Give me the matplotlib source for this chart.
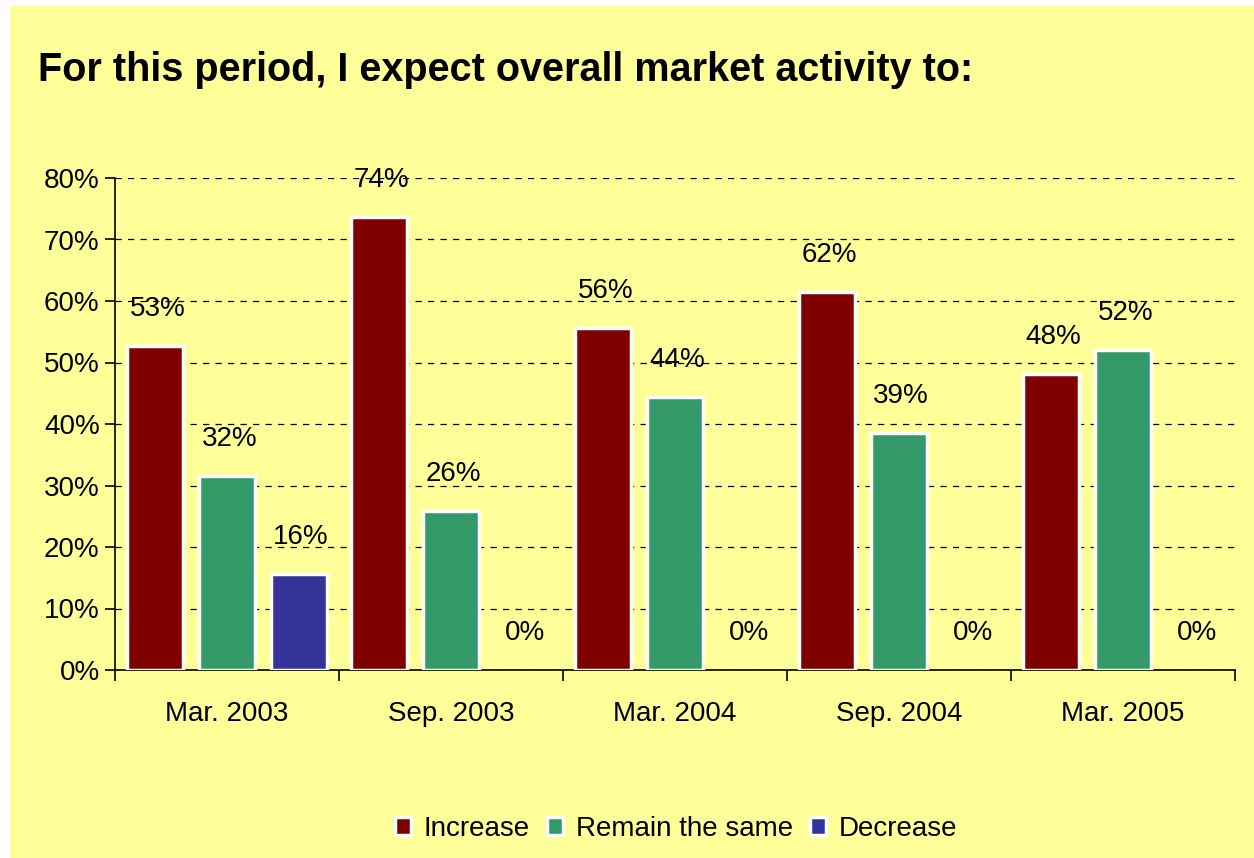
import matplotlib.pyplot as plt
import numpy as np
from matplotlib.patches import Rectangle
from matplotlib.ticker import FuncFormatter

plt.rcParams['font.family'] = ['Liberation Sans', 'DejaVu Sans']

periodos = ["Mar. 2003", "Sep. 2003", "Mar. 2004", "Sep. 2004", "Mar. 2005"]
aumento = [0.527, 0.737, 0.556, 0.615, 0.481]
igual = [0.316, 0.259, 0.444, 0.386, 0.520]
queda = [0.156, 0.0, 0.0, 0.0, 0.0]
series = ["Increase", "Remain the same", "Decrease"]
cores = ["#800000", "#339966", "#333399"]

fig = plt.figure(figsize=(12.54, 8.58), dpi=100)
fig.patch.set_facecolor("white")
# fundo amarelo com borda branca fina em cima e a esquerda
fig.patches.append(Rectangle((10 / 1254, 0), 1 - 10 / 1254, 1 - 6 / 858,
                             transform=fig.transFigure, facecolor="#FFFF99",
                             edgecolor="none", zorder=-10))

ax = fig.add_axes([115 / 1254, 188 / 858, 1120 / 1254, 492 / 858])
ax.set_facecolor("none")

x = np.arange(len(periodos))
largura = 0.25
passo = 0.32
for k, (vals, nome, cor) in enumerate(zip([aumento, igual, queda], series, cores)):
    pos = x + (k - 1) * passo
    espessura = [2.5 if v > 0 else 0 for v in vals]
    ax.bar(pos, vals, largura, color=cor, edgecolor="white",
           linewidth=espessura, label=nome, zorder=3)
    for p, v in zip(pos, vals):
        ax.text(p + 0.01, v + 0.06, f"{round(v * 100):.0f}%", ha="center",
                va="center", fontsize=20, zorder=4)

ax.set_xlim(-0.5, len(periodos) - 0.5)
ax.set_ylim(0, 0.8)
ax.set_yticks(np.arange(0, 0.81, 0.1))
ax.yaxis.set_major_formatter(FuncFormatter(lambda v, _: f"{v:.0%}"))
ax.set_xticks(x)
ax.set_xticklabels(periodos)
ax.set_xticks(np.arange(-0.5, len(periodos), 1), minor=True)
ax.tick_params(axis="x", which="major", length=0, pad=22, labelsize=20)
ax.tick_params(axis="x", which="minor", length=8, width=1.2, direction="out")
ax.tick_params(axis="y", length=7, width=1.2, direction="out", labelsize=20, pad=4)

for s in ["top", "right"]:
    ax.spines[s].set_visible(False)
ax.spines["left"].set_linewidth(1.2)
ax.spines["bottom"].set_linewidth(1.2)
ax.yaxis.grid(True, color="black", linestyle=(0, (5, 5)), linewidth=0.9)
ax.set_axisbelow(True)

fig.text(38 / 1254, 1 - 70 / 858, "For this period, I expect overall market activity to:",
         fontsize=28.5, fontweight="bold", ha="left", va="center")

ax.legend(loc="center", bbox_to_anchor=(676 / 1254, 1 - 829 / 858), bbox_transform=fig.transFigure,
          ncol=3, frameon=False, fontsize=20, handlelength=0.6, handleheight=0.6,
          handletextpad=0.45, columnspacing=0.6)

fig.savefig("out.png", dpi=100, facecolor=fig.get_facecolor())
